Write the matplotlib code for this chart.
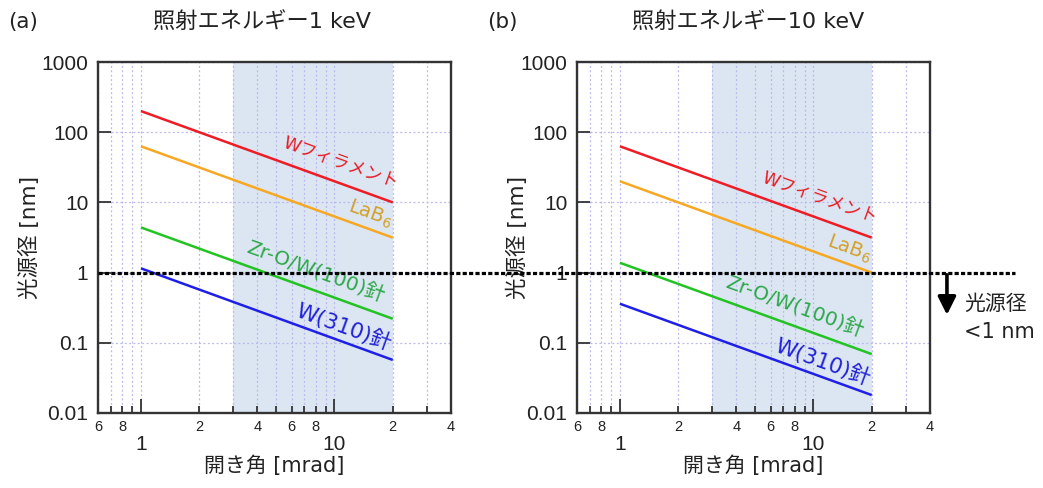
import numpy as np
import matplotlib
matplotlib.use("Agg")
import matplotlib.pyplot as plt
from matplotlib.lines import Line2D
from matplotlib.ticker import FixedLocator, FixedFormatter, NullLocator
from matplotlib.transforms import blended_transform_factory

plt.rcParams['font.family'] = ['Liberation Sans', 'Noto Sans CJK JP']
plt.rcParams['mathtext.default'] = 'regular'
LABEL_FONT = ['DejaVu Sans', 'Noto Sans CJK JP']

# ---- data -------------------------------------------------------------
angle_ends = [1, 20]                     # opening angle [mrad]
series_labels = ['Wフィラメント', 'LaB$_6$', 'Zr-O/W(100)針', 'W(310)針']

# source size [nm] at the two ends of the angle range, 1 keV
w_filament_1kev = [200, 10]
lab6_1kev = [63, 3.15]
zro_w100_1kev = [4.4, 0.22]
w310_1kev = [1.15, 0.057]

# source size [nm] at the two ends of the angle range, 10 keV
w_filament_10kev = [63, 3.15]
lab6_10kev = [20, 1.0]
zro_w100_10kev = [1.38, 0.069]
w310_10kev = [0.36, 0.018]

shaded_range = [3, 20]                   # highlighted angle band [mrad]
threshold_nm = 1                         # source-size limit line

y_ticks = [0.01, 0.1, 1, 10, 100, 1000]
y_ticklabels = ['0.01', '0.1', '1', '10', '100', '1000']
x_major = [1, 10]
x_major_labels = ['1', '10']
x_minor = [0.6, 0.7, 0.8, 0.9, 2, 3, 4, 5, 6, 7, 8, 9, 20, 30, 40]
x_minor_labels = ['6', '', '8', '', '2', '', '4', '', '6', '', '8', '', '2', '', '4']

panels = [
    ('(a)', '照射エネルギー1 keV',
     [w_filament_1kev, lab6_1kev, zro_w100_1kev, w310_1kev]),
    ('(b)', '照射エネルギー10 keV',
     [w_filament_10kev, lab6_10kev, zro_w100_10kev, w310_10kev]),
]

# ---- styling ----------------------------------------------------------
line_colors = ['#ee1c25', '#f7a823', '#22c322', '#1f1fe8']
text_colors = ['#e81c24', '#d3a12a', '#2da84a', '#2020d8']
label_sizes = [12.5, 14, 14.5, 15.5]
label_x = [10.7, 15.3, 8.0, 11.2]
label_y_1kev = [36.0, 6.8, 1.02, 0.168]
label_y_10kev = [11.4, 2.15, 0.32, 0.053]
label_ys = [label_y_1kev, label_y_10kev]
ylabel_x = [-0.164, -0.139]

W, H = 1043, 488
fig = plt.figure(figsize=(W / 100, H / 100), dpi=100)
ax_a = fig.add_axes([98 / W, 75 / H, 353 / W, 351 / H])
ax_b = fig.add_axes([577 / W, 75 / H, 353 / W, 351 / H])
axes = [ax_a, ax_b]

spine_color = '#333333'
text_color = '#222222'

for ax, (tag, title, series), ly, ylx in zip(axes, panels, label_ys, ylabel_x):
    ax.set_xscale('log')
    ax.set_yscale('log')
    ax.set_xlim(0.6, 40)
    ax.set_ylim(0.01, 1000)
    ax.set_axisbelow(True)

    ax.axvspan(shaded_range[0], shaded_range[1], color='#dce6f2', lw=0, zorder=0)

    for vals, c in zip(series, line_colors):
        ax.plot(angle_ends, vals, color=c, lw=1.8, solid_capstyle='butt', zorder=3)

    # text rotation following the slope of the lines on screen
    p0 = ax.transData.transform((angle_ends[0], series[0][0]))
    p1 = ax.transData.transform((angle_ends[1], series[0][1]))
    rot = np.degrees(np.arctan2(p1[1] - p0[1], p1[0] - p0[0]))

    for name, x, y, c, fs in zip(series_labels, label_x, ly, text_colors, label_sizes):
        ax.text(x, y, name, color=c, fontsize=fs, rotation=rot, family=LABEL_FONT,
                ha='center', va='center', zorder=4)

    # ticks
    ax.xaxis.set_major_locator(FixedLocator(x_major))
    ax.xaxis.set_major_formatter(FixedFormatter(x_major_labels))
    ax.xaxis.set_minor_locator(FixedLocator(x_minor))
    ax.xaxis.set_minor_formatter(FixedFormatter(x_minor_labels))
    ax.yaxis.set_major_locator(FixedLocator(y_ticks))
    ax.yaxis.set_major_formatter(FixedFormatter(y_ticklabels))
    ax.yaxis.set_minor_locator(NullLocator())

    ax.tick_params(axis='x', which='major', direction='in', length=10, width=1.3,
                   pad=16, labelsize=15, colors=spine_color, labelcolor=text_color,
                   top=False)
    ax.tick_params(axis='x', which='minor', direction='in', length=5, width=1.3,
                   pad=5, labelsize=10.5, colors=spine_color, labelcolor=text_color,
                   top=False)
    ax.tick_params(axis='y', which='major', direction='in', length=9.5, width=1.3,
                   pad=7, labelsize=15, colors=spine_color, labelcolor=text_color,
                   right=False)

    ax.grid(True, axis='x', which='both', color='#b8b8ec', lw=0.9, ls=(0, (1.5, 2)))
    ax.grid(True, axis='y', which='major', color='#b8b8ec', lw=0.9, ls=(0, (1.5, 2)))

    for sp in ax.spines.values():
        sp.set_color(spine_color)
        sp.set_linewidth(1.7)

    ax.set_xlabel('開き角 [mrad]', fontsize=15, color=text_color, labelpad=1,
                  family=LABEL_FONT)
    ax.set_ylabel('光源径 [nm]', fontsize=15.5, color=text_color,
                  family=LABEL_FONT)
    ax.yaxis.set_label_coords(ylx, 0.5)
    ax.text(0.155, 1.114, title, transform=ax.transAxes, fontsize=16,
            color=text_color, ha='left', va='center', family=LABEL_FONT)
    ax.text(-0.255, 1.114, tag, transform=ax.transAxes, fontsize=15.5,
            color=text_color, ha='left', va='center', family=LABEL_FONT)

# dotted threshold line spanning both panels
x_start = ax_a.get_position().x0
line = Line2D([x_start, 1015 / W], [threshold_nm, threshold_nm],
              transform=blended_transform_factory(fig.transFigure, ax_a.transData),
              color='black', lw=2.3, ls=(0, (1.3, 0.7)), zorder=5)
fig.add_artist(line)

# arrow and note on the right
arrow_tr = blended_transform_factory(ax_b.transAxes, ax_b.transData)
ax_b.annotate('', xy=(1.048, 0.25), xytext=(1.048, 0.93),
              xycoords=arrow_tr, textcoords=arrow_tr,
              arrowprops=dict(arrowstyle='-|>', color='black', lw=2.6,
                              mutation_scale=27, shrinkA=0, shrinkB=0),
              annotation_clip=False)
ax_b.text(1.097, 0.36, '光源径', transform=arrow_tr, fontsize=15,
          color=text_color, ha='left', va='center', family=LABEL_FONT)
ax_b.text(1.097, 0.143, '<1 nm', transform=arrow_tr, fontsize=15,
          color=text_color, ha='left', va='center', family=LABEL_FONT)

fig.savefig('out.png', dpi=100)
